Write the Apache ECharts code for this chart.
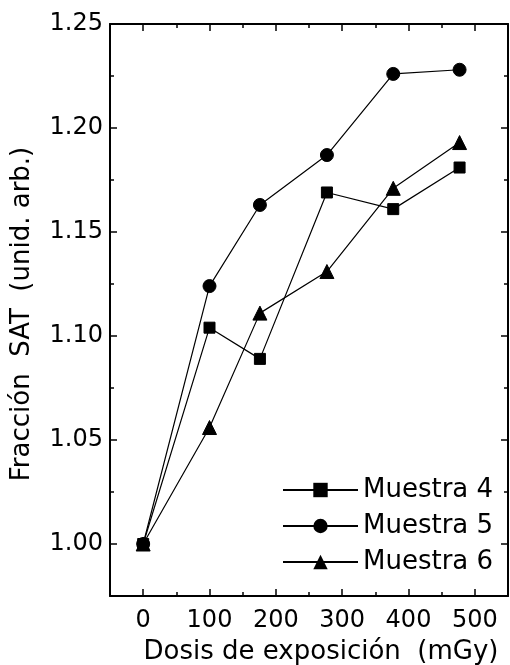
<!DOCTYPE html>
<html><head><meta charset="utf-8">
<script src="https://cdn.jsdelivr.net/npm/echarts@6/dist/echarts.min.js"></script>
<style>html,body{margin:0;padding:0;background:#fff}#c{width:510px;height:665px}</style>
</head><body><div id="c"></div>
<script>
var doses4 = [0, 100, 176, 277, 377, 477];
var doses5 = [0, 100, 176, 277, 377, 477];
var doses6 = [0, 100, 176, 277, 377, 477];
var muestra4 = [1.000, 1.104, 1.089, 1.169, 1.161, 1.181];
var muestra5 = [1.000, 1.124, 1.163, 1.187, 1.226, 1.228];
var muestra6 = [1.000, 1.056, 1.111, 1.131, 1.171, 1.193];
var seriesNames = ['Muestra 4', 'Muestra 5', 'Muestra 6'];
var xMajor = [0, 100, 200, 300, 400, 500];
var xMinor = [50, 150, 250, 350, 450];
var yMajor = [1.00, 1.05, 1.10, 1.15, 1.20, 1.25];
var yMinor = [0.975, 1.025, 1.075, 1.125, 1.175, 1.225];
var xTitle = 'Dosis de exposición  (mGy)';
var yTitle = 'Fracción  SAT  (unid. arb.)';

var FONT = 'DejaVu Sans';
var XMIN = -50, XMAX = 550, YMIN = 0.975, YMAX = 1.25;

function xAx(pos, ticks, len, labels, line) {
  return {
    type: 'value', position: pos, min: XMIN, max: XMAX, interval: 50,
    splitLine: {show: false},
    axisLine: {show: line, onZero: false, lineStyle: {color: '#000', width: 2}},
    axisTick: {show: true, inside: true, length: len, customValues: ticks, lineStyle: {color: '#000', width: 1.5}},
    axisLabel: labels ? {show: true, customValues: xMajor, margin: 13, color: '#000', fontSize: 24, fontFamily: FONT,
      formatter: function (v) { return String(Math.round(v)); }} : {show: false}
  };
}
function yAx(pos, ticks, len, labels, line) {
  return {
    type: 'value', position: pos, min: YMIN, max: YMAX, interval: 0.025,
    splitLine: {show: false},
    axisLine: {show: line, onZero: false, lineStyle: {color: '#000', width: 2}},
    axisTick: {show: true, inside: true, length: len, customValues: ticks, lineStyle: {color: '#000', width: 1.5}},
    axisLabel: labels ? {show: true, customValues: yMajor, margin: 7, color: '#000', fontSize: 24, fontFamily: FONT,
      formatter: function (v) { return v.toFixed(2); }} : {show: false}
  };
}

function mk(name, xs, ys, sym, size) {
  return {
    name: name, type: 'line', xAxisIndex: 0, yAxisIndex: 0,
    data: xs.map(function (x, i) { return [x, ys[i]]; }),
    symbol: sym, symbolSize: size, showSymbol: true,
    lineStyle: {color: '#000', width: 1.2},
    itemStyle: {color: '#000', borderColor: '#000'},
    emphasis: {disabled: true}, animation: false
  };
}

var chart = echarts.init(document.getElementById('c'), null, {renderer: 'canvas'});
chart.setOption({
  backgroundColor: '#fff',
  animation: false,
  grid: {left: 110, right: 2, top: 24, bottom: 69, containLabel: false},
  xAxis: [
    xAx('bottom', xMajor, 7, true, true),
    xAx('bottom', xMinor, 4, false, false),
    xAx('top', xMajor, 7, false, true),
    xAx('top', xMinor, 4, false, false)
  ],
  yAxis: [
    yAx('left', yMajor, 7, true, true),
    yAx('left', yMinor, 4, false, false),
    yAx('right', yMajor, 7, false, true),
    yAx('right', yMinor, 4, false, false)
  ],
  legend: {
    orient: 'vertical', left: 277, top: 472,
    itemWidth: 75, itemHeight: 18, itemGap: 10,
    data: seriesNames,
    textStyle: {color: '#000', fontSize: 26, fontFamily: FONT, lineHeight: 26, padding: [0, 0, 0, 0]},
    selectedMode: false
  },
  graphic: [
    {type: 'text', x: 22, y: 314, rotation: Math.PI / 2,
      style: {text: yTitle, fill: '#000', font: '26px "DejaVu Sans"', textAlign: 'center', textVerticalAlign: 'middle'}},
    {type: 'text', x: 321, y: 652,
      style: {text: xTitle, fill: '#000', font: '26px "DejaVu Sans"', textAlign: 'center', textVerticalAlign: 'middle'}}
  ],
  series: [
    mk(seriesNames[0], doses4, muestra4, 'rect', 11),
    mk(seriesNames[1], doses5, muestra5, 'circle', 13),
    mk(seriesNames[2], doses6, muestra6, 'triangle', 14)
  ]
});
</script></body></html>
